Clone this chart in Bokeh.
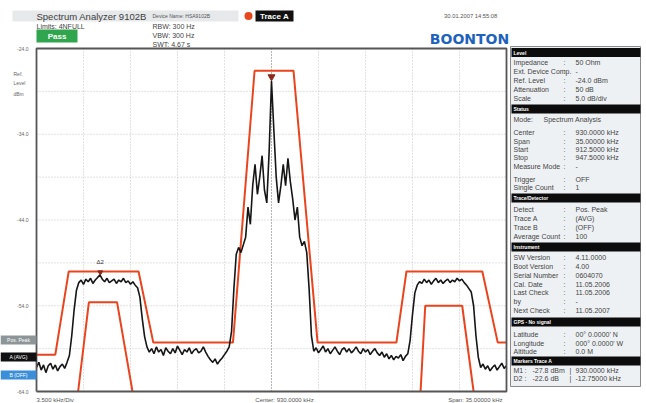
import numpy as np
from bokeh.plotting import figure
from bokeh.models import Range1d
from bokeh.core.properties import value
from bokeh.embed import file_html
from bokeh.resources import INLINE

# ---------------- data ----------------
freq_start = 912.5
freq_stop = 947.5
freq_step = 0.175
level_top = -24.0
level_bottom = -64.0
level_ticks = [-24.0, -34.0, -44.0, -54.0, -64.0]
level_tick_labels = ["-24.0", "-34.0", "-44.0", "-54.0", "-64.0"]

trace_a = [
    -61.2, -60.6, -61.5, -60.9, -61.8, -61.0, -60.7, -61.4, -60.9, -61.6, -61.1, -60.8, -61.3, -60.6,
    -59.8, -57.5, -54.5, -52.2,
    -51.3, -51.0, -51.5, -50.9, -51.2, -50.8, -51.4, -51.0, -50.7, -50.4, -50.9, -51.2, -50.8,
    -51.3, -51.1, -50.9, -51.4, -51.0, -51.2, -50.8, -51.3, -51.1, -51.5, -51.2, -51.6, -51.9,
    -53.0, -55.5, -57.6, -58.8, -59.4,
    -59.0, -59.6, -58.8, -59.4, -59.1, -59.8, -58.9, -59.3, -59.6, -59.0, -59.5, -58.7, -59.2,
    -59.7, -59.1, -59.4, -58.9, -59.6, -59.2, -59.0, -59.5, -59.3, -58.8, -59.4, -59.9, -60.3,
    -60.6, -60.2, -60.8, -60.4, -60.1, -59.7, -59.3,
    -58.8, -57.0, -52.0, -48.0, -47.2, -47.8, -46.9, -46.0, -42.5, -44.5, -40.0, -37.5, -41.0,
    -39.0, -36.5, -40.5, -42.0, -36.0, -27.8, -33.5, -39.0, -42.0, -40.0, -37.5, -40.0, -36.8,
    -39.5, -41.5, -44.0, -42.5, -46.0, -47.0, -46.5, -47.8, -52.0, -57.5,
    -59.3, -58.9, -59.5, -59.1, -58.7, -59.4, -59.0, -59.6, -59.2, -58.8,
    -59.3, -59.7, -59.1, -58.9, -59.4, -59.0, -59.5, -59.2, -58.8, -59.3,
    -59.6, -59.0, -59.4, -59.1, -59.7, -59.3, -59.0, -59.5, -59.8, -59.4,
    -60.0, -59.6, -60.2, -59.8, -60.3, -59.9, -60.1, -59.7, -60.4, -59.9, -59.6,
    -58.0, -55.0, -52.5,
    -51.6, -51.2, -51.4, -50.9, -51.3, -51.0, -51.5, -51.1, -50.8, -51.3,
    -51.0, -51.4, -51.1, -50.9, -51.3, -51.0, -51.2, -50.8, -51.1, -50.9,
    -51.3, -51.6, -52.0, -52.4,
    -54.0, -57.5, -60.0, -61.2,
    -60.8, -61.4, -61.0, -61.6, -61.2, -60.9, -61.5, -61.1, -60.7, -61.3, -61.0,
]
trace_freq = [round(freq_start + i * freq_step, 3) for i in range(len(trace_a))]

mask_outer_freq = [912.5, 913.9, 914.9, 920.1, 921.2, 927.13, 928.74, 931.64, 933.43, 939.3, 940.05, 945.7, 946.85, 947.5]
mask_outer_level = [-59.7, -59.7, -50.0, -50.0, -58.3, -58.3, -26.6, -26.6, -58.3, -58.3, -50.0, -50.0, -58.3, -58.3]
mask_inner_left_freq = [915.6, 916.4, 918.5, 919.65]
mask_inner_left_level = [-64.0, -53.6, -53.6, -64.0]
mask_inner_right_freq = [941.1, 941.45, 944.2, 945.05]
mask_inner_right_level = [-64.0, -54.0, -54.0, -64.0]

marker_m1 = (930.0, -27.8)
marker_d2 = (917.25, -50.4)

panel_sections = ["Level", "Status", "Trace/Detector", "Instrument", "GPS - No signal", "Markers Trace A"]
panel_section_y = [52, 108.5, 197.5, 246.5, 321.5, 360.5]
panel_labels = ["Impedance", "Ext. Device Comp.", "Ref. Level", "Attenuation", "Scale",
                "Center", "Span", "Start", "Stop", "Measure Mode", "Trigger", "Single Count",
                "Detect", "Trace A", "Trace B", "Average Count",
                "SW Version", "Boot Version", "Serial Number", "Cal. Date", "Last Check", "by", "Next Check",
                "Latitude", "Longitude", "Altitude"]
panel_values = ["50 Ohm", "-", "-24.0 dBm", "50 dB", "5.0 dB/div",
                "930.0000 kHz", "35.00000 kHz", "912.5000 kHz", "947.5000 kHz", "-", "OFF", "1",
                "Pos. Peak", "(AVG)", "(OFF)", "100",
                "4.11.0000", "4.00", "0604070", "11.05.2006", "11.05.2006", "-", "11.05.2007",
                "00\u00b0 0.0000' N", "000\u00b0 0.0000' W", "0.0 M"]
panel_y = [62, 71, 80, 89, 98,
           132, 141, 149, 157, 166, 179, 187,
           209, 218, 227, 236,
           257, 266, 275, 284, 292, 301, 310,
           334, 343, 351]

# ---------------- layout constants (canvas px) ----------------
W, H = 646, 403
PX0, PX1, PY0, PY1 = 36, 506, 48, 391
FONT = value("Liberation Sans")
RED = "#e9441e"

kx = (freq_stop - freq_start) / (PX1 - PX0)
ky = (level_top - level_bottom) / (PY1 - PY0)

p = figure(width=W, height=H, output_backend="svg", toolbar_location=None,
           x_range=Range1d(0, W), y_range=Range1d(H, 0),
           x_axis_type=None, y_axis_type=None, min_border=0)
p.outline_line_color = None
p.grid.visible = False
p.background_fill_color = "white"
p.border_fill_color = "white"
p.extra_x_ranges = {"f": Range1d(freq_start - PX0 * kx, freq_stop + (W - PX1) * kx)}
p.extra_y_ranges = {"db": Range1d(level_bottom - (H - PY1) * ky, level_top + PY0 * ky)}
R = dict(x_range_name="f", y_range_name="db")


def txt(x, y, t, size, color="#444444", align="left", bold=False, font=FONT, **kw):
    p.text(x=[x], y=[y], text=[t], text_font=font, text_font_size=f"{size}px",
           text_color=color, text_align=align, text_baseline="middle",
           text_font_style="bold" if bold else "normal", **kw)


# ---------------- grid ----------------
vlines = [freq_start + k * 3.5 for k in range(1, 10)]
p.segment(x0=vlines, x1=vlines, y0=[level_bottom] * 9, y1=[level_top] * 9,
          line_color="#b5b5b5", line_width=0.8, line_dash="1 2", **R)
p.segment(x0=[930.0], x1=[930.0], y0=[level_bottom], y1=[level_top],
          line_color="#808080", line_width=0.9, line_dash="1 2", **R)
hl = [level_top - 5 * k for k in range(1, 8)]
p.segment(x0=[freq_start] * 7, x1=[freq_stop] * 7, y0=hl, y1=hl,
          line_color="#b5b5b5", line_width=0.8, line_dash="1 2", **R)

# ---------------- masks & trace ----------------
for fx, ly in [(mask_outer_freq, mask_outer_level), (mask_inner_left_freq, mask_inner_left_level),
               (mask_inner_right_freq, mask_inner_right_level)]:
    p.line(fx, ly, line_color=RED, line_width=2, **R)

p.line(trace_freq, trace_a, line_color="#151515", line_width=1.6, **R)

p.scatter([marker_m1[0]], [marker_m1[1] + 0.5], marker="inverted_triangle", size=7,
          fill_color="#8a2a1a", line_color="#8a2a1a", **R)
p.scatter([marker_d2[0]], [marker_d2[1] + 0.3], marker="inverted_triangle", size=5,
          fill_color="#8a2a1a", line_color="#8a2a1a", **R)
p.text(x=[marker_d2[0]], y=[marker_d2[1] + 1.1], text=["\u03942"], text_font=FONT,
       text_font_size="6px", text_color="#333333", text_align="center", text_baseline="bottom", **R)

# frame
p.line([freq_start, freq_start, freq_stop, freq_stop, freq_start],
       [level_bottom, level_top, level_top, level_bottom, level_bottom],
       line_color="#555555", line_width=1.8, **R)

# y tick labels
p.text(x=[freq_start - 0.6] * len(level_ticks), y=level_ticks, text=level_tick_labels,
       text_font=FONT, text_font_size="5px", text_color="#666666", text_align="right",
       text_baseline="middle", **R)
for t, yy in [("Ref.", 73), ("Level", 82), ("dBm", 93)]:
    txt(13, yy, t, 5, color="#666666")

# left status boxes
for label, y0, col in [("Pos. Peak", 335, "#8c9597"), ("A (AVG)", 352, "#111111"), ("B (OFF)", 370, "#3b8fd8")]:
    p.quad(left=[0], right=[36], top=[y0], bottom=[y0 + 9], fill_color=col, line_color=None)
    txt(18, y0 + 4.5, label, 5, color="white", align="center")

# bottom texts
txt(36, 399, "3.500 kHz/Div", 6, color="#555555")
txt(284, 399, "Center: 930.0000 kHz", 6, color="#555555", align="center")
txt(502, 399, "Span: 35.00000 kHz", 6, color="#555555", align="right")

# ---------------- header ----------------
p.quad(left=[12], right=[238], top=[10], bottom=[21], fill_color="#e6e8ea", line_color=None)
txt(36, 15.5, "Spectrum Analyzer 9102B", 9.5, color="#3c3c3c")
txt(152, 15.5, "Device Name: HSA9102B", 5, color="#555555")
p.scatter([248], [15.5], size=8, fill_color="#e8481c", line_color=None)
p.quad(left=[255], right=[293], top=[10], bottom=[21], fill_color="#111111", line_color=None)
txt(274, 15.8, "Trace A", 8, color="white", align="center", bold=True)
txt(36, 25.5, "Limits:  4NFULL", 7, color="#444444")
p.quad(left=[36], right=[77], top=[29], bottom=[42], fill_color="#2fa54e", line_color=None)
txt(56.5, 35.5, "Pass", 8, color="white", align="center", bold=True)
txt(152, 25.5, "RBW:  300 Hz", 7, color="#444444")
txt(152, 34.5, "VBW:  300 Hz", 7, color="#444444")
txt(152, 43.5, "SWT:  4.67 s", 7, color="#444444")
txt(471, 15, "30.01.2007  14:55:08", 5.8, color="#555555", align="center")
txt(469, 38, "BOONTON", 14, color="#1d62bd", align="center", bold=True, font=value("DejaVu Sans"))

# ---------------- right panel ----------------
p.quad(left=[510], right=[640], top=[46], bottom=[386], fill_color="#eef1f3",
       line_color="#8a8a8a", line_width=1)
for s, yy in zip(panel_sections, panel_section_y):
    p.quad(left=[511], right=[640], top=[yy - 4.5], bottom=[yy + 4.5],
           fill_color="#0c0c0c", line_color=None)
    txt(513, yy, s, 5, color="white", bold=True)

p.text(x=[513] * len(panel_labels), y=panel_y, text=panel_labels,
       text_font=FONT, text_font_size="7px", text_color="#444444", text_align="left", text_baseline="middle")
p.text(x=[563] * len(panel_labels), y=panel_y, text=[":"] * len(panel_labels),
       text_font=FONT, text_font_size="7px", text_color="#444444", text_align="left", text_baseline="middle")
p.text(x=[575] * len(panel_values), y=panel_y, text=panel_values,
       text_font=FONT, text_font_size="7px", text_color="#444444", text_align="left", text_baseline="middle")
txt(513, 119, "Mode:", 7)
txt(543, 119, "Spectrum Analysis", 7)

for lab, val, fr, yy in [("M1", "-27.8 dBm", "930.0000 kHz", 370), ("D2", "-22.6 dB", "-12.75000 kHz", 378)]:
    txt(513, yy, lab, 7)
    txt(524, yy, ":", 7)
    txt(532, yy, val, 7)
    txt(569, yy, "|", 7)
    txt(575, yy, fr, 7)

open("out.html", "w").write(file_html(p, INLINE))
